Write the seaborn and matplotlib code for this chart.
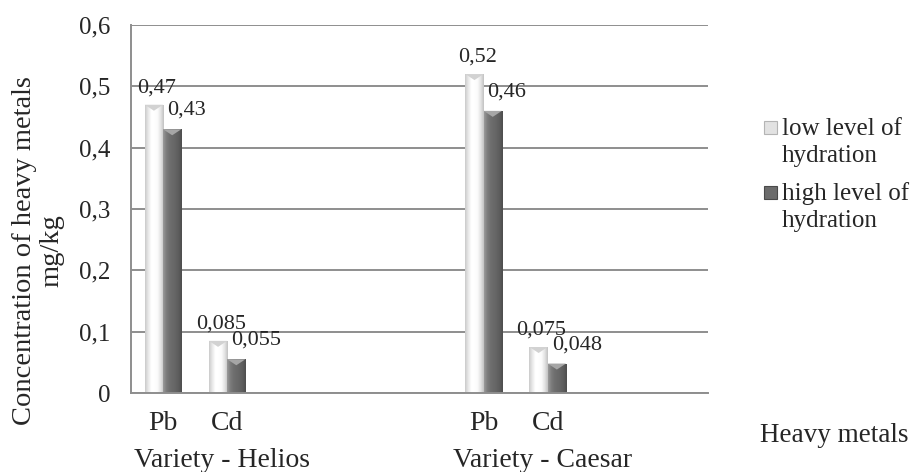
import numpy as np
import pandas as pd
import matplotlib
matplotlib.use("Agg")
import matplotlib.pyplot as plt
import seaborn as sns
from matplotlib.patches import Polygon, Rectangle
from matplotlib.colors import LinearSegmentedColormap
from matplotlib.ticker import FuncFormatter

# ---- data -------------------------------------------------------------
varieties = ["Variety - Helios", "Variety - Caesar"]
metals = ["Pb", "Cd"]
series = ["low level of\nhydration", "high level of\nhydration"]
# values in the order Helios-Pb, Helios-Cd, Caesar-Pb, Caesar-Cd
low_hydration = [0.47, 0.085, 0.52, 0.075]
high_hydration = [0.43, 0.055, 0.46, 0.048]
y_ticks = [0.0, 0.1, 0.2, 0.3, 0.4, 0.5, 0.6]

# empty category slots that follow each variety on the axis
trailing_blanks = [3, 2]

# ---- tidy frame -------------------------------------------------------
rows = []
order = []
k = 0
for vi, var in enumerate(varieties):
    for m in metals:
        key = f"{var}|{m}"
        order.append(key)
        rows.append({"slot": key, "series": series[0], "value": low_hydration[k]})
        rows.append({"slot": key, "series": series[1], "value": high_hydration[k]})
        k += 1
    order += [f"{var}|blank{j}" for j in range(trailing_blanks[vi])]
df = pd.DataFrame(rows)

def comma(v):
    return f"{v:g}".replace(".", ",")

# ---- style ------------------------------------------------------------
sns.set_style("white")
plt.rcParams["font.family"] = ["Liberation Serif", "DejaVu Serif"]
plt.rcParams["font.size"] = 18

grid_col = "#8e8e8e"
low_col, high_col = "#f6f6f6", "#6c6c6c"
fig = plt.figure(figsize=(9.14, 4.72), dpi=100)
W, H = 914, 472
ax = fig.add_axes([131 / W, 1 - 393 / H, (708 - 131) / W, (393 - 25) / H])

sns.barplot(data=df, x="slot", y="value", hue="series", order=order,
            hue_order=series, palette=[low_col, high_col], saturation=1,
            width=0.57, gap=0, edgecolor="none", linewidth=0, legend=False,
            errorbar=None, ax=ax)

ax.set_xlim(-0.5, len(order) - 0.5)
ax.set_ylim(0, 0.6)

# ---- shaded bar faces -------------------------------------------------
low_cmap = LinearSegmentedColormap.from_list(
    "low", ["#cbcbcb", "#e8e8e8", "#ffffff", "#ffffff", "#fbfbfb", "#e4e4e4", "#c2c2c2"])
high_cmap = LinearSegmentedColormap.from_list(
    "high", ["#9a9a9a", "#7d7d7d", "#707070", "#6a6a6a", "#646464", "#5c5c5c", "#4e4e4e"])
top_cols = ["#d2d2d2", "#a6a6a6"]

px_per_unit = ax.transData.transform((0, 1))[1] - ax.transData.transform((0, 0))[1]
bevel = 6 / px_per_unit
grad = np.linspace(0, 1, 64)[np.newaxis, :]

for si, cont in enumerate(ax.containers):
    cmap = low_cmap if si == 0 else high_cmap
    for bar in cont:
        h = bar.get_height()
        if not np.isfinite(h) or h <= 0:
            continue
        x0 = bar.get_x()
        x1 = x0 + bar.get_width()
        im = ax.imshow(grad, extent=[x0, x1, 0, h], aspect="auto", cmap=cmap,
                       zorder=bar.get_zorder() + 0.1, interpolation="bilinear")
        im.set_clip_path(bar)
        tri = Polygon([[x0, h], [x1, h], [(x0 + x1) / 2, h - bevel]], closed=True,
                      facecolor=top_cols[si], edgecolor="none",
                      zorder=bar.get_zorder() + 0.2)
        ax.add_patch(tri)

ax.set_xlim(-0.5, len(order) - 0.5)
ax.set_ylim(0, 0.6)

# ---- value labels -----------------------------------------------------
for si, cont in enumerate(ax.containers):
    for bar in cont:
        h = bar.get_height()
        if not np.isfinite(h) or h <= 0:
            continue
        if si == 0:
            ax.annotate(comma(h), xy=(bar.get_x() + bar.get_width() / 2, h),
                        xytext=(3, 17), textcoords="offset pixels",
                        ha="center", va="center", fontsize=16, zorder=5)
        else:
            ax.annotate(comma(h), xy=(bar.get_x(), h),
                        xytext=(4, 19), textcoords="offset pixels",
                        ha="left", va="center", fontsize=16, zorder=5)

# ---- axes -------------------------------------------------------------
ax.set_yticks(y_ticks)
ax.yaxis.set_major_formatter(FuncFormatter(lambda v, p: comma(round(v, 1))))
ax.yaxis.grid(True, color=grid_col, linewidth=1.4)
ax.set_axisbelow(True)
for s in ["top", "right"]:
    ax.spines[s].set_visible(False)
for s in ["left", "bottom"]:
    ax.spines[s].set_color(grid_col)
    ax.spines[s].set_linewidth(1.4)
ax.tick_params(axis="y", length=5, width=1.4, color=grid_col, pad=10, labelsize=18)

tick_labels = [k.split("|")[1] if not k.split("|")[1].startswith("blank") else ""
               for k in order]
ax.set_xticks(range(len(order)))
ax.set_xticklabels(tick_labels, fontsize=20)
ax.tick_params(axis="x", length=0, pad=13)
ax.set_xlabel("")
ax.set_ylabel("")

# variety names under their metal pairs
for var in varieties:
    first = order.index(f"{var}|{metals[0]}")
    ax.annotate(var, xy=(first + 0.92, 0), xycoords=("data", "axes fraction"),
                xytext=(0, -55), textcoords="offset pixels",
                ha="center", va="top", fontsize=20, annotation_clip=False)

fig.text(38 / W, 1 - 251 / H, "Concentration of heavy metals\nmg/kg",
         rotation=90, ha="center", va="center", fontsize=20.5, linespacing=1.12,
         multialignment="center")
fig.text(908 / W, 1 - 442 / H, "Heavy metals", ha="right", va="baseline",
         fontsize=19.5)

# ---- legend: marker beside the first line of each two-line entry ------
legend_fill = [("#e2e2e2", "#b4b4b4"), (high_col, "#4a4a4a")]
first_baselines = [135, 200]
line_step = 27
for si, name in enumerate(series):
    lines = name.split("\n")
    b = first_baselines[si]
    for li, txt in enumerate(lines):
        fig.text(782 / W, 1 - (b + li * line_step) / H, txt, ha="left",
                 va="baseline", fontsize=18)
    fc, ec = legend_fill[si]
    fig.add_artist(Rectangle((764 / W, 1 - (b - 1) / H), 13 / W, 13 / H,
                             transform=fig.transFigure, facecolor=fc,
                             edgecolor=ec, linewidth=0.8))

fig.savefig("out.png", dpi=100)
